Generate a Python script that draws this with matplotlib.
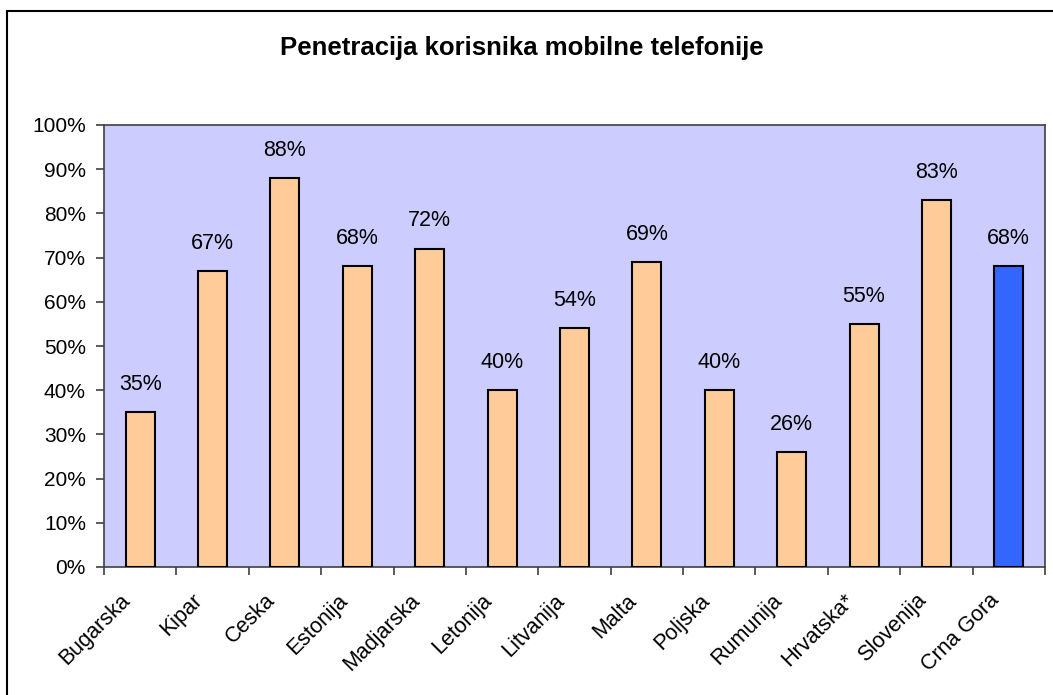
import numpy as np
import matplotlib
matplotlib.use('Agg')
from matplotlib import pyplot as plt
from matplotlib.patches import Rectangle

_TITLE = 'Penetracija korisnika mobilne telefonije'
countries = ['Bugarska', 'Kipar', 'Ceska', 'Estonija', 'Madjarska', 'Letonija',
             'Litvanija', 'Malta', 'Poljska', 'Rumunija', 'Hrvatska*', 'Slovenija',
             'Crna Gora']
penetration = [35, 67, 88, 68, 72, 40, 54, 69, 40, 26, 55, 83, 68]
y_ticks = [0, 10, 20, 30, 40, 50, 60, 70, 80, 90, 100]

plt.rcParams['font.family'] = ['Liberation Sans', 'DejaVu Sans']

fig = plt.figure(figsize=(10.53, 6.95), dpi=100)
# outer frame of the chart (only top/left visible in the crop)
fig.patches.append(Rectangle((7 / 1053, -0.05), 1.1, (695 - 11) / 695 + 0.05,
                             transform=fig.transFigure, fill=False,
                             edgecolor='black', linewidth=1.5, zorder=0))

ax = fig.add_axes([104 / 1053, (695 - 567) / 695, (1045 - 104) / 1053, (567 - 125) / 695])
ax.set_facecolor('#CCCCFF')

x = np.arange(len(countries))
colors = ['#FFCC99'] * (len(countries) - 1) + ['#3366FF']
ax.bar(x, penetration, width=0.4, color=colors, edgecolor='black', linewidth=1.5, zorder=3)

for xi, v in zip(x, penetration):
    ax.annotate('{}%'.format(v), (xi, v), xytext=(0, 20), textcoords='offset points',
                ha='center', va='center', fontsize=15.5)

ax.set_xlim(-0.5, len(countries) - 0.5)
ax.set_ylim(0, 100)
ax.set_yticks(y_ticks)
ax.set_yticklabels(['{}%'.format(t) for t in y_ticks], fontsize=15)

ax.set_xticks(np.arange(len(countries) + 1) - 0.5)
ax.set_xticklabels([])
# labels sit a bit left of the category centre, like Excel does
ax.set_xticks(x - 0.18, minor=True)
ax.set_xticklabels(countries, minor=True, rotation=45, ha='right', va='center',
                   rotation_mode='anchor', fontsize=15.5)
ax.tick_params(axis='x', which='minor', length=0, pad=22)
ax.tick_params(axis='x', which='major', length=6, width=1.2, color='#404040')
ax.tick_params(axis='y', length=6, width=1.2, color='#404040', pad=7)

for s in ax.spines.values():
    s.set_color('#404040')
    s.set_linewidth(1.2)

fig.text(522 / 1053, (695 - 48) / 695, _TITLE, ha='center', va='center',
         fontsize=18.5, fontweight='bold')

plt.savefig('out.png', dpi=100)
